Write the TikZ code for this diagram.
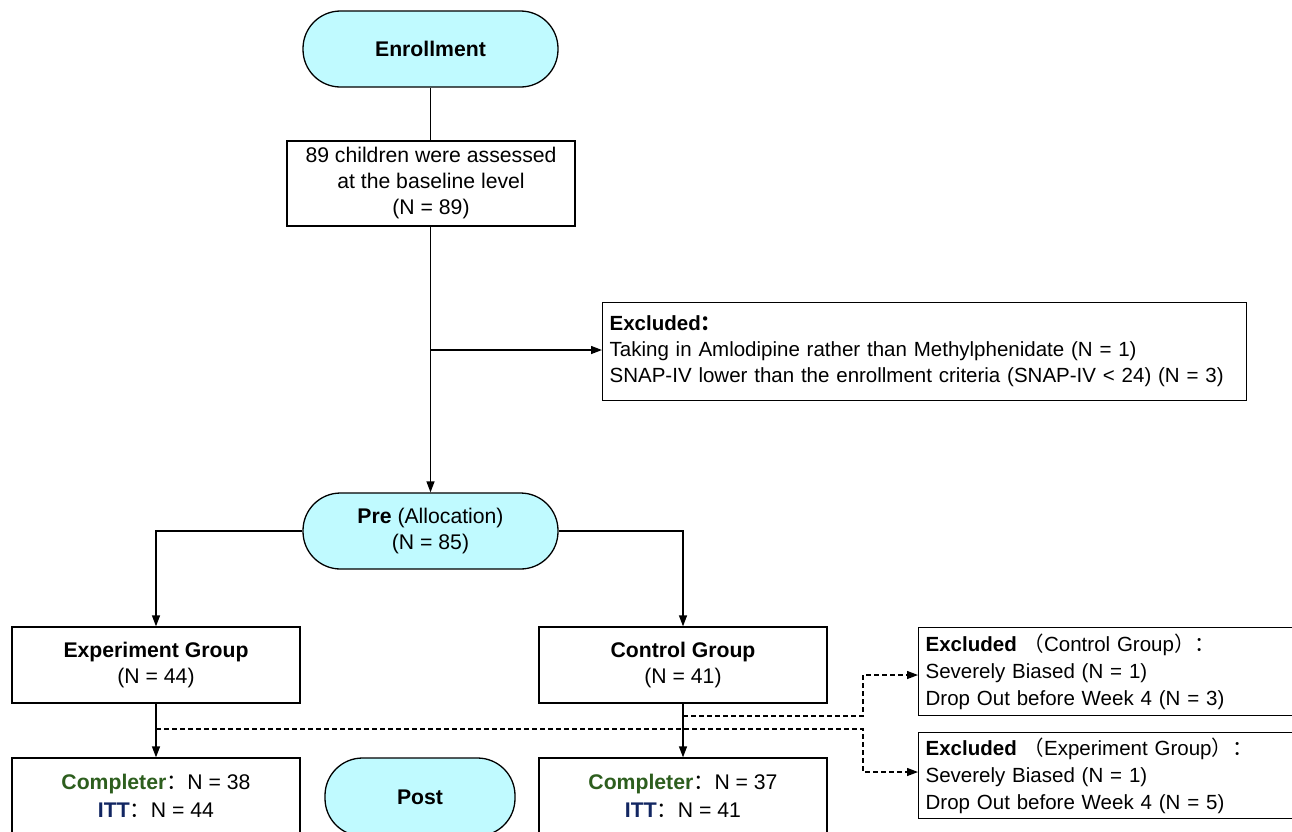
\documentclass[tikz,border=0pt]{standalone}
\usepackage{fontspec}
\setmainfont{Liberation Sans}
\newfontfamily\cjk{Noto Sans CJK SC}
\usetikzlibrary{arrows.meta,calc}
\definecolor{cyanfill}{RGB}{192,250,255}
\definecolor{cgreen}{RGB}{45,94,30}
\definecolor{cnavy}{RGB}{18,38,98}
\newcommand\myfs{\fontsize{21.2pt}{26pt}\selectfont}
\newcommand\myfsa{\fontsize{20.5pt}{26pt}\selectfont}
\newcommand\myfsb{\fontsize{20.5pt}{27pt}\selectfont}
\begin{document}
\begin{tikzpicture}[x=1pt,y=-1pt,
  every node/.style={font=\myfs},
  box/.style={draw, line width=1.3pt, align=center, inner sep=0pt},
  term/.style={draw, line width=1.3pt, fill=cyanfill, rounded corners=37.5pt, align=center, inner sep=0pt},
  lbox/.style={draw, line width=1.3pt, align=left, inner xsep=7pt, inner ysep=0pt, anchor=north west},
  conn/.style={line width=1.3pt},
  arr/.style={conn, -{Triangle[length=11pt,width=8pt]}},
  darr/.style={conn, dash pattern=on 5pt off 3pt, -{Triangle[length=11pt,width=8pt]}}]
\useasboundingbox (0,0) rectangle (1292,831);
% nodes
\node[term, minimum width=255pt, minimum height=76pt] (enr) at (430.5,49) {\bfseries Enrollment};
\node[box, minimum width=288pt, minimum height=85pt] (base) at (431,183.5) {89 children were assessed\\at the baseline level\\(N = 89)};
\node[lbox, font=\myfsa, text width=630pt, minimum height=98pt] (ex0) at (602,302)
  {\textbf{Excluded{\cjk ：}}\\Taking in Amlodipine rather than Methylphenidate (N = 1)\\SNAP-IV lower than the enrollment criteria (SNAP-IV < 24) (N = 3)};
\node[term, minimum width=255pt, minimum height=76pt] (pre) at (430.5,531) {\textbf{Pre} (Allocation)\\(N = 85)};
\node[box, minimum width=288pt, minimum height=76pt] (exp) at (156,665) {\textbf{Experiment Group}\\(N = 44)};
\node[box, minimum width=288pt, minimum height=76pt] (ctl) at (683,665) {\textbf{Control Group}\\(N = 41)};
\node[box, minimum width=288pt, minimum height=76pt] (expc) at (156,796)
  {\textcolor{cgreen}{\textbf{Completer}}{\cjk ：}N = 38\\[2pt]\textcolor{cnavy}{\textbf{ITT}}{\cjk ：}N = 44};
\node[term, minimum width=190pt, minimum height=78pt] (post) at (420,797) {\textbf{Post}};
\node[box, minimum width=288pt, minimum height=76pt] (ctlc) at (683,796)
  {\textcolor{cgreen}{\textbf{Completer}}{\cjk ：}N = 37\\[2pt]\textcolor{cnavy}{\textbf{ITT}}{\cjk ：}N = 41};
\node[lbox, font=\myfsb, text width=386pt, minimum height=88pt] (exC) at (918,627)
  {\textbf{Excluded} {\cjk （}Control Group{\cjk ）：}\\Severely Biased (N = 1)\\Drop Out before Week 4 (N = 3)};
\node[lbox, font=\myfsb, text width=386pt, minimum height=86pt] (exE) at (918,732)
  {\textbf{Excluded} {\cjk （}Experiment Group{\cjk ）：}\\Severely Biased (N = 1)\\Drop Out before Week 4 (N = 5)};
% coordinates
\coordinate (b1) at (430.5,350);
\coordinate (d1) at (683,716);
\coordinate (d2) at (156,729);
\coordinate (kx) at (863,0);
\coordinate (t1) at (918,675);
\coordinate (t2) at (918,772);
% connectors
\draw[conn] (enr.south) -- (base.north -| enr.south);
\draw[arr] (base.south -| enr.south) -- (pre.north);
\draw[arr] (b1) -- (b1 -| ex0.west);
\draw[arr] (pre.west) -| (exp.north);
\draw[arr] (pre.east) -| (ctl.north);
\draw[arr] (exp.south) -- (expc.north);
\draw[arr] (ctl.south) -- (ctlc.north);
\draw[darr] (d1) -- (d1 -| kx) |- (t1);
\draw[darr] (d2) -- (d2 -| kx) |- (t2);
\end{tikzpicture}
\end{document}
